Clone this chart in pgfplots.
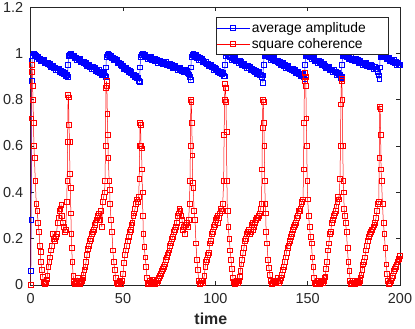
\documentclass[border=0pt]{standalone}
\usepackage{fontspec}
\setmainfont{Liberation Sans}
\usepackage{pgfplots}
\pgfplotsset{compat=1.18}
\definecolor{axgray}{rgb}{0.15,0.15,0.15}
\begin{document}
\begin{tikzpicture}
\begin{axis}[
  scale only axis, width=369.3bp, height=278bp,
  xmin=0, xmax=200, ymin=0, ymax=1.2,
  xtick={0,50,100,150,200}, ytick={0,0.2,0.4,0.6,0.8,1,1.2},
  yticklabels={0,0.2,0.4,0.6,0.8,1,1.2},
  tick align=inside, major tick length=3.7bp,
  axis line style={axgray, line width=0.5bp}, tick style={axgray, line width=0.5bp},
  /pgf/number format/assume math mode=true,
  ticklabel style={font=\fontsize{14.5}{16}\selectfont, text=axgray},
  yticklabel style={xshift=-3.9bp},
  xticklabel style={yshift=-5bp},
  xlabel={time},
  xlabel style={font=\fontsize{16}{18}\selectfont\bfseries, text=axgray,
    at={(axis description cs:0.5,0)}, anchor=north, yshift=-24.9bp, xshift=-4.5bp},
  legend style={at={(0.9702,0.964)}, anchor=north east, draw=axgray, line width=0.5bp,
    font=\fontsize{13.9}{15}\selectfont, inner xsep=0bp, inner ysep=2.8bp,
    nodes={inner xsep=2bp, inner ysep=2bp}, row sep=0.8bp, cells={anchor=west}},
  legend image code/.code={\draw[mark repeat=2,mark phase=2] plot coordinates {(0bp,0bp)(16.5bp,0bp)(33bp,0bp)};},
]
% average amplitude
\addplot[blue, line width=0.5bp, mark=square, mark size=2.4bp, mark options={solid}] coordinates {
(0,0.06)(0.25,0.28)(0.5,0.88)(0.75,0.97)(1,0.99)(1.5,1.0)(2,0.995)(2.5,0.99)(3,0.99)(3.5,0.985)
(4,0.985)(4.5,0.975)(5,0.976)(5.5,0.966)(6,0.974)(6.5,0.967)(7,0.973)(7.5,0.959)(8,0.961)(8.5,0.961)
(9,0.953)(9.5,0.960)(10,0.950)(10.5,0.954)(11,0.941)(11.5,0.946)(12,0.948)(12.5,0.937)(13,0.939)(13.5,0.929)
(14,0.936)(14.5,0.930)(15,0.936)(15.5,0.921)(16,0.924)(16.5,0.924)(17,0.915)(17.5,0.923)(18,0.913)(18.5,0.916)
(19,0.904)(19.5,0.909)(20,0.900)(20.25,0.95)(20.5,0.99)(21,0.995)(21.5,1.0)(22,0.993)(22.5,0.99)(23,0.988)
(23.5,0.990)(24,0.980)(24.5,0.981)(25,0.971)(25.5,0.979)(26,0.972)(26.5,0.978)(27,0.964)(27.5,0.966)(28,0.966)
(28.5,0.958)(29,0.965)(29.5,0.955)(30,0.958)(30.5,0.946)(31,0.951)(31.5,0.952)(32,0.942)(32.5,0.944)(33,0.933)
(33.5,0.941)(34,0.935)(34.5,0.940)(35,0.926)(35.5,0.929)(36,0.928)(36.5,0.920)(37,0.928)(37.5,0.917)(38,0.921)
(38.5,0.909)(39,0.913)(39.5,0.915)(40,0.905)(40.5,0.898)(40.75,0.94)(41,0.985)(41.5,0.995)(42,1.0)(42.5,0.993)(43,0.99)
(43.5,0.992)(44,0.981)(44.5,0.981)(45,0.970)(45.5,0.977)(46,0.970)(46.5,0.974)(47,0.959)(47.5,0.961)(48,0.959)
(48.5,0.950)(49,0.957)(49.5,0.946)(50,0.948)(50.5,0.935)(51,0.939)(51.5,0.939)(52,0.928)(52.5,0.929)(53,0.918)
(53.5,0.924)(54,0.917)(54.5,0.922)(55,0.906)(55.5,0.908)(56,0.907)(56.5,0.898)(57,0.904)(57.5,0.893)(58,0.896)
(58.5,0.882)(59,0.877)(59.25,0.94)(59.5,0.985)(60,0.995)(60.5,1.0)(61,0.995)(61.5,0.99)
(62,0.993)(62.5,0.983)(63,0.986)(63.5,0.977)(64,0.985)(64.5,0.980)(65,0.986)(65.5,0.973)(66,0.976)(66.5,0.977)
(67,0.969)(67.5,0.978)(68,0.968)(68.5,0.973)(69,0.961)(69.5,0.967)(70,0.969)(70.5,0.960)(71,0.962)(71.5,0.953)
(72,0.961)(72.5,0.956)(73,0.962)(73.5,0.949)(74,0.952)(74.5,0.953)(75,0.946)(75.5,0.954)(76,0.945)(76.5,0.949)
(77,0.938)(77.5,0.943)(78,0.946)(78.5,0.936)(79,0.939)(79.5,0.929)(80,0.938)(80.5,0.932)(81,0.939)(81.5,0.925)
(82,0.929)(82.5,0.929)(83,0.922)(83.5,0.930)(84,0.921)(84.5,0.925)(85,0.914)(85.5,0.91)(86,0.90)(86.5,0.885)
(86.75,0.94)(87,0.985)(87.5,0.995)(88,1.0)(88.5,0.995)(89,0.99)
(89.5,0.993)(90,0.982)(90.5,0.984)(91,0.973)(91.5,0.980)(92,0.974)(92.5,0.979)(93,0.964)(93.5,0.967)(94,0.966)
(94.5,0.957)(95,0.965)(95.5,0.954)(96,0.957)(96.5,0.945)(97,0.949)(97.5,0.950)(98,0.940)(98.5,0.941)(99,0.930)
(99.5,0.938)(100,0.931)(100.5,0.936)(101,0.922)(101.5,0.924)(102,0.923)(102.5,0.915)(103,0.922)(103.5,0.911)(104,0.915)
(104.5,0.902)(105,0.901)(105.25,0.95)(105.5,0.99)(106,1.0)(106.5,0.995)(107,0.99)
(107.5,0.993)(108,0.983)(108.5,0.984)(109,0.974)(109.5,0.982)(110,0.975)(110.5,0.981)(111,0.967)(111.5,0.969)(112,0.969)
(112.5,0.961)(113,0.969)(113.5,0.958)(114,0.962)(114.5,0.950)(115,0.954)(115.5,0.956)(116,0.946)(116.5,0.947)(117,0.937)
(117.5,0.945)(118,0.938)(118.5,0.944)(119,0.930)(119.5,0.932)(120,0.932)(120.5,0.924)(121,0.931)(121.5,0.921)(122,0.925)
(122.5,0.913)(123,0.917)(123.5,0.919)(124,0.909)(124.5,0.910)(125,0.900)(125.5,0.905)(125.75,0.872)
(126,0.95)(126.5,0.99)(127,1.0)(127.5,0.995)(128,0.99)
(128.5,0.993)(129,0.983)(129.5,0.985)(130,0.974)(130.5,0.982)(131,0.976)(131.5,0.982)(132,0.968)(132.5,0.970)(133,0.970)
(133.5,0.962)(134,0.970)(134.5,0.960)(135,0.963)(135.5,0.951)(136,0.956)(136.5,0.958)(137,0.948)(137.5,0.949)(138,0.939)
(138.5,0.947)(139,0.941)(139.5,0.947)(140,0.932)(140.5,0.935)(141,0.935)(141.5,0.927)(142,0.935)(142.5,0.924)(143,0.928)
(143.5,0.916)(144,0.921)(144.5,0.923)(145,0.912)(145.5,0.914)(146,0.904)(146.5,0.912)(147,0.906)(147.5,0.911)(148,0.897)
(148.25,0.888)(148.5,0.95)(149,0.99)(149.5,0.995)(150,0.99)
(150.5,0.995)(151,0.985)(151.5,0.986)(152,0.976)(152.5,0.983)(153,0.977)(153.5,0.982)(154,0.968)(154.5,0.970)(155,0.970)
(155.5,0.961)(156,0.969)(156.5,0.958)(157,0.962)(157.5,0.949)(158,0.954)(158.5,0.955)(159,0.945)(159.5,0.946)(160,0.936)
(160.5,0.943)(161,0.937)(161.5,0.942)(162,0.928)(162.5,0.930)(163,0.930)(163.5,0.921)(164,0.929)(164.5,0.918)(165,0.922)
(165.5,0.909)(166,0.914)(166.5,0.915)(167,0.905)(167.5,0.906)(168,0.896)(168.25,0.90)
(168.5,0.95)(169,0.99)(169.5,0.993)(170,0.99)
(170.5,0.993)(171,0.983)(171.5,0.986)(172,0.976)(172.5,0.985)(173,0.979)(173.5,0.986)(174,0.972)(174.5,0.975)(175,0.976)
(175.5,0.968)(176,0.977)(176.5,0.967)(177,0.972)(177.5,0.960)(178,0.965)(178.5,0.968)(179,0.958)(179.5,0.961)(180,0.951)
(180.5,0.960)(181,0.954)(181.5,0.961)(182,0.947)(182.5,0.950)(183,0.951)(183.5,0.943)(184,0.952)(184.5,0.942)(185,0.947)
(185.5,0.935)(186,0.941)(186.5,0.943)(187,0.933)(187.5,0.932)(188,0.92)(188.5,0.905)(188.75,0.89)
(189,0.94)(189.25,0.985)(189.5,0.99)(190,0.993)(190.5,0.99)
(191,0.993)(191.5,0.983)(192,0.985)(192.5,0.975)(193,0.982)(193.5,0.976)(194,0.982)(194.5,0.968)(195,0.971)(195.5,0.971)
(196,0.963)(196.5,0.971)(197,0.960)(197.5,0.964)(198,0.952)(198.5,0.957)(199,0.959)(199.5,0.949)(200,0.951)
};
% square coherence
\addplot[red, line width=0.5bp, mark=square, mark size=2.4bp, mark options={solid}] coordinates {
(0,0)(0.25,0.72)(0.5,0.92)(0.75,0.95)(1,0.86)(1.25,0.80)(1.5,0.70)(1.75,0.60)(2,0.55)(2.5,0.45)
(3,0.35)(3.5,0.32)(4,0.27)(4.5,0.23)(5,0.17)(5.25,0.145)(5.5,0.10)(6,0.065)(6.5,0.036)(7,0.012)
(7.5,0.005)(8,0.01)(8.5,0.025)(9,0.04)(9.5,0.08)(10,0.1)(10.5,0.12)(11,0.15)(11.5,0.17)(12,0.22)
(12.5,0.2)(13,0.19)(13.5,0.21)(14,0.22)(14.5,0.27)(15,0.29)(15.5,0.32)(16,0.33)(16.5,0.345)(17,0.3)
(17.5,0.27)(18,0.25)(18.5,0.23)(19,0.24)(19.5,0.36)(19.75,0.45)(20,0.62)(20.25,0.82)(20.5,0.81)(20.75,0.69)
(21,0.62)(21.25,0.48)(21.5,0.42)(21.75,0.31)(22,0.22)(22.25,0.16)(22.5,0.1)(23,0.04)(23.5,0.015)(24,0.005)
(24.5,0.01)(25,0.02)(25.5,0.03)(26,0.01)(26.5,0.005)(27,0.015)(27.5,0.02)(28,0.03)(28.5,0.045)(29,0.065)
(29.5,0.08)(30,0.1)(30.5,0.13)(31,0.155)(31.5,0.17)(32,0.19)(32.5,0.2)(33,0.22)(33.5,0.23)(34,0.24)
(34.5,0.26)(35,0.27)(35.5,0.28)(36,0.29)(36.5,0.3)(37,0.31)(37.5,0.28)(38,0.32)(38.5,0.25)(39,0.36)
(39.5,0.38)(40,0.40)(40.25,0.45)(40.5,0.6)(40.75,0.85)(41,0.88)(41.25,0.86)(41.5,0.74)(41.75,0.65)(42,0.55)
(42.5,0.45)(42.75,0.41)(43,0.35)(43.5,0.28)(44,0.23)(44.5,0.15)(45,0.1)(45.5,0.065)(46,0.03)(46.5,0.01)
(47,0.005)(47.5,0.01)(48,0.02)(48.5,0.015)(49,0.005)(49.5,0.02)(50,0.05)(50.5,0.095)(51,0.13)(51.5,0.15)
(52,0.17)(52.5,0.19)(53,0.21)(53.5,0.23)(54,0.24)(54.5,0.26)(55,0.27)(55.5,0.3)(56,0.31)(56.5,0.33)
(57,0.35)(57.5,0.37)(58,0.36)(58.5,0.38)(58.75,0.46)(59,0.6)(59.25,0.70)(59.5,0.69)(59.75,0.60)(60,0.59)
(60.25,0.5)(60.5,0.4)(60.75,0.3)(61,0.22)(61.5,0.165)(62,0.12)(62.5,0.08)(63,0.03)(63.5,0.005)(64,0.01)
(64.5,0.02)(65,0.005)(65.5,0.01)(66,0.025)(66.5,0.015)(67,0.005)(67.5,0.01)(68,0.02)(68.5,0.01)(69,0.02)
(69.5,0.03)(70,0.04)(70.5,0.05)(71,0.06)(71.5,0.07)(72,0.08)(72.5,0.09)(73,0.11)(73.5,0.12)(74,0.13)
(74.5,0.14)(75,0.15)(75.5,0.17)(76,0.18)(76.5,0.2)(77,0.21)(77.5,0.23)(78,0.24)(78.5,0.25)(79,0.27)
(79.5,0.3)(80,0.31)(80.5,0.33)(81,0.32)(81.5,0.3)(82,0.28)(82.5,0.24)(83,0.25)(83.5,0.22)(84,0.26)
(84.5,0.27)(85,0.25)(85.5,0.28)(86,0.35)(86.25,0.45)(86.5,0.6)(86.75,0.80)(87,0.79)(87.25,0.7)(87.5,0.56)
(87.75,0.44)(88,0.42)(88.5,0.32)(89,0.28)(89.5,0.18)(90,0.11)(90.5,0.065)(91,0.02)(91.5,0.005)(92,0.01)
(92.5,0.02)(93,0.01)(93.5,0.02)(94,0.04)(94.5,0.08)(95,0.1)(95.5,0.11)(96,0.13)(96.5,0.14)(97,0.18)
(97.5,0.19)(98,0.22)(98.5,0.23)(99,0.25)(99.5,0.26)(100,0.28)(100.5,0.29)(101,0.3)(101.5,0.27)(102,0.29)
(102.5,0.31)(103,0.33)(103.5,0.32)(104,0.35)(104.5,0.45)(104.75,0.65)(105,0.80)(105.25,0.87)(105.5,0.85)(105.75,0.79)
(106,0.66)(106.25,0.45)(106.5,0.32)(107,0.25)(107.5,0.2)(108,0.15)(108.5,0.11)(109,0.07)(109.5,0.03)(110,0.015)
(110.5,0.005)(111,0.01)(111.5,0.02)(112,0.01)(112.5,0.02)(113,0.035)(113.5,0.06)(114,0.09)(114.5,0.11)(115,0.14)
(115.5,0.16)(116,0.19)(116.5,0.2)(117,0.22)(117.5,0.23)(118,0.24)(118.5,0.22)(119,0.23)(119.5,0.26)(120,0.27)
(120.5,0.24)(121,0.25)(121.5,0.27)(122,0.28)(122.5,0.29)(123,0.29)(123.5,0.3)(124,0.31)(124.5,0.33)(125,0.35)
(125.25,0.5)(125.5,0.68)(125.75,0.80)(126,0.79)(126.25,0.7)(126.5,0.6)(126.75,0.45)(127,0.35)(127.25,0.31)(127.5,0.23)
(128,0.18)(128.5,0.11)(129,0.075)(129.5,0.045)(130,0.02)(130.5,0.005)(131,0.01)(131.5,0.02)(132,0.015)(132.5,0.01)
(133,0.02)(133.5,0.03)(134,0.02)(134.5,0.01)(135,0.02)(135.5,0.03)(136,0.045)(136.5,0.065)(137,0.08)(137.5,0.1)
(138,0.12)(138.5,0.14)(139,0.16)(139.5,0.17)(140,0.18)(140.5,0.19)(141,0.21)(141.5,0.22)(142,0.24)(142.5,0.25)
(143,0.26)(143.5,0.27)(144,0.29)(144.5,0.3)(145,0.32)(145.5,0.32)(146,0.33)(146.5,0.35)(147,0.36)(147.5,0.37)
(147.75,0.5)(148,0.7)(148.25,0.88)(148.5,0.915)(148.75,0.9)(149,0.86)(149.25,0.72)(149.5,0.6)(149.75,0.45)(150,0.37)
(150.5,0.3)(151,0.25)(151.5,0.21)(152,0.18)(152.5,0.12)(153,0.08)(153.5,0.03)(154,0.01)(154.5,0.005)(155,0.01)
(155.5,0.02)(156,0.01)(156.5,0.005)(157,0.015)(157.5,0.02)(158,0.01)(158.5,0.02)(159,0.03)(159.5,0.036)(160,0.07)
(160.5,0.1)(161,0.15)(161.5,0.18)(162,0.22)(162.5,0.23)(163,0.27)(163.5,0.28)(164,0.3)(164.5,0.31)(165,0.32)
(165.5,0.34)(166,0.36)(166.5,0.38)(167,0.37)(167.5,0.46)(167.75,0.6)(168,0.78)(168.25,0.89)(168.5,0.88)(168.75,0.8)
(169,0.6)(169.25,0.45)(169.5,0.4)(169.75,0.33)(170,0.3)(170.5,0.27)(171,0.23)(171.5,0.16)(172,0.1)(172.5,0.06)
(173,0.02)(173.5,0.005)(174,0.01)(174.5,0.02)(175,0.01)(175.5,0.005)(176,0.01)(176.5,0.02)(177,0.015)(177.5,0.01)
(178,0.02)(178.5,0.03)(179,0.045)(179.5,0.065)(180,0.09)(180.5,0.1)(181,0.12)(181.5,0.15)(182,0.17)(182.5,0.19)
(183,0.21)(183.5,0.22)(184,0.23)(184.5,0.24)(185,0.24)(185.5,0.25)(186,0.26)(186.5,0.27)(187,0.29)(187.5,0.32)
(188,0.35)(188.5,0.36)(188.75,0.55)(189,0.77)(189.25,0.76)(189.5,0.65)(189.75,0.5)(190,0.45)(190.5,0.35)(191,0.27)
(191.5,0.22)(192,0.16)(192.5,0.09)(193,0.05)(193.5,0.02)(194,0.005)(194.5,0.01)(195,0.02)(195.5,0.03)(196,0.04)
(196.5,0.06)(197,0.07)(197.5,0.08)(198,0.09)(198.5,0.1)(199,0.11)(199.5,0.115)(200,0.125)
};
\legend{average amplitude\hspace*{21bp}, square coherence}
\end{axis}
\pgfresetboundingbox
\path ([xshift=-30.7bp,yshift=-44bp]current axis.south west) rectangle ([xshift=15bp,yshift=7bp]current axis.north east);
\end{tikzpicture}
\end{document}
